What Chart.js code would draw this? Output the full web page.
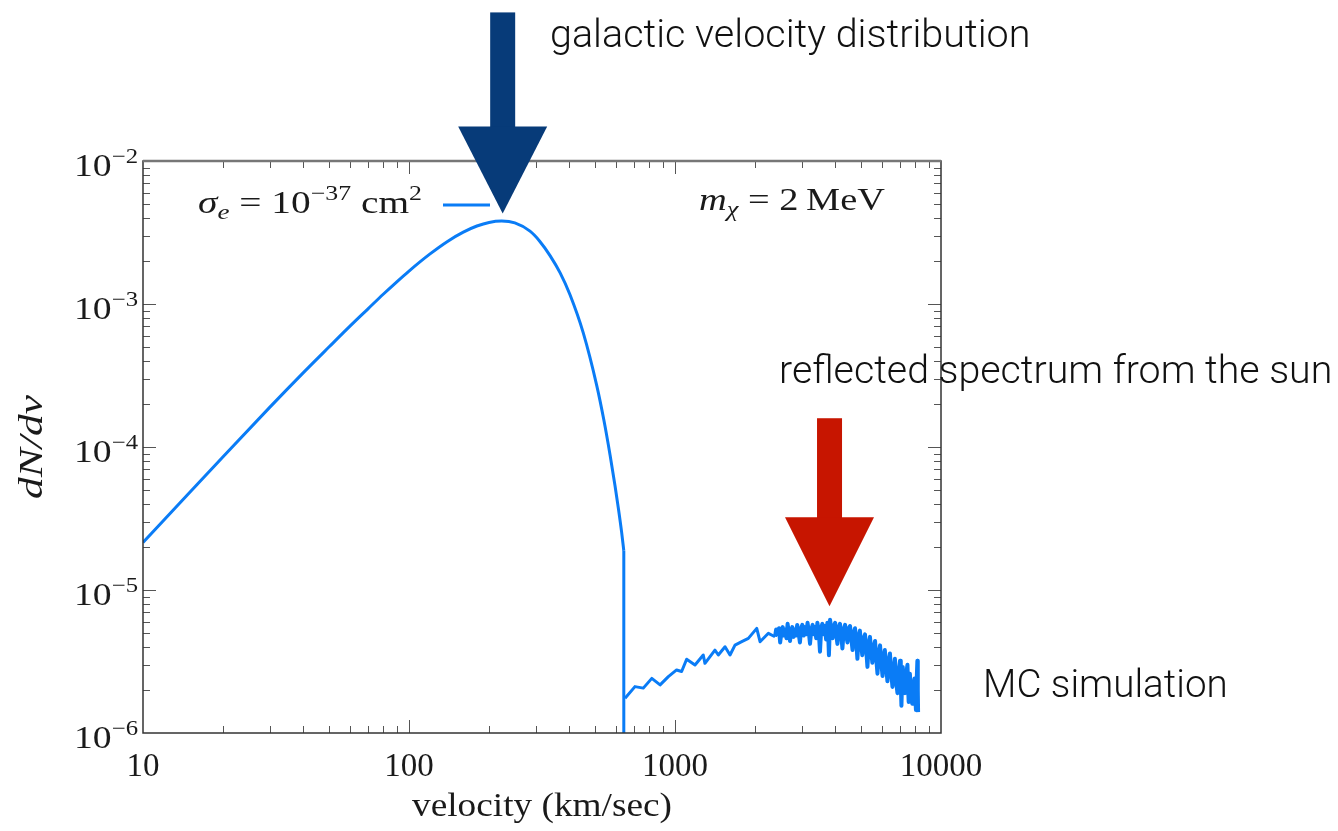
<!DOCTYPE html>
<html>
<head>
<meta charset="utf-8">
<script src="https://cdn.jsdelivr.net/npm/chart.js@4.4.0/dist/chart.umd.min.js"></script>
<style>
  html, body { margin: 0; padding: 0; background: #fff; }
  #wrap { width: 1338px; height: 831px; }
</style>
</head>
<body>
<div id="wrap"><canvas id="chart"></canvas></div>
<script>
// galactic velocity distribution, v in km/sec
const galV = [10, 15, 20, 30, 40, 50, 60, 70, 80, 90, 100, 120, 140, 160, 180, 200, 223, 250, 285, 310, 339, 370, 403, 452, 508, 540, 570, 595, 613, 630, 642];
const galF = [2.15e-5, 4.83e-5, 8.55e-5, 1.9e-4, 3.3e-4, 5.0e-4, 7.0e-4, 9.22e-4, 1.17e-3, 1.43e-3, 1.7e-3, 2.24e-3, 2.75e-3, 3.18e-3, 3.51e-3, 3.72e-3, 3.8e-3, 3.69e-3, 3.23e-3, 2.75e-3, 2.18e-3, 1.65e-3, 1.16e-3, 6.28e-4, 2.69e-4, 1.55e-4, 8.8e-5, 5.36e-5, 3.69e-5, 2.54e-5, 1.88e-5];

// reflected spectrum from the sun (MC simulation)
const mcV = [649, 707, 760, 818, 879, 944, 1014, 1059, 1106, 1189, 1277, 1296, 1413, 1455, 1542, 1610, 1681, 1782, 1887, 2029, 2088, 2244, 2377,
  2400, 2430, 2460, 2485, 2510, 2540, 2570, 2600, 2625, 2650, 2680, 2706, 2735, 2760, 2790, 2820, 2850, 2880, 2915, 2949, 2980,
  3010, 3045, 3080, 3115, 3150, 3185, 3218, 3255, 3290, 3325, 3360, 3395, 3430, 3470, 3508, 3545, 3580, 3620, 3660, 3700, 3740, 3765, 3790, 3828, 3870, 3910, 3955,
  4000, 4040, 4080, 4125, 4171, 4215, 4260, 4310, 4360, 4405, 4450, 4500, 4550, 4600, 4650, 4700, 4750, 4800, 4850, 4900, 4955,
  5005, 5060, 5120, 5180, 5235, 5290, 5350, 5407, 5465, 5520, 5585, 5650, 5710, 5770, 5835, 5900, 5965,
  6030, 6090, 6150, 6220, 6290, 6360, 6427, 6500, 6570, 6640, 6710, 6780, 6860, 6940,
  7013, 7060, 7100, 7140, 7180, 7250, 7330, 7400, 7480, 7520, 7560, 7600, 7638, 7720, 7800, 7870, 7950,
  8000, 8050, 8100, 8150, 8180, 8200];
const mcF = [1.75e-6, 2.11e-6, 2.06e-6, 2.41e-6, 2.17e-6, 2.48e-6, 2.76e-6, 2.69e-6, 3.28e-6, 2.99e-6, 3.51e-6, 3.07e-6, 3.8e-6, 3.51e-6, 4.01e-6, 3.51e-6, 4.12e-6, 4.35e-6, 4.59e-6, 5.39e-6, 4.35e-6, 4.98e-6, 4.71e-6,
  5.3e-6, 4.9e-6, 5.4e-6, 4.3e-6, 5.0e-6, 5.5e-6, 4.8e-6, 5.3e-6, 4.6e-6, 5.8e-6, 5.0e-6, 4.4e-6, 5.2e-6, 5.5e-6, 4.7e-6, 5.3e-6, 4.8e-6, 5.7e-6, 5.0e-6, 4.3e-6, 5.4e-6,
  5.7e-6, 4.8e-6, 5.5e-6, 4.9e-6, 5.9e-6, 5.1e-6, 4.2e-6, 5.3e-6, 5.7e-6, 4.9e-6, 5.5e-6, 4.6e-6, 5.9e-6, 5.2e-6, 3.7e-6, 5.4e-6, 5.8e-6, 4.9e-6, 5.6e-6, 4.5e-6, 5.9e-6, 5.0e-6, 3.5e-6, 6.2e-6, 5.3e-6, 4.6e-6, 5.6e-6,
  5.9e-6, 4.8e-6, 4.2e-6, 5.5e-6, 5.8e-6, 4.9e-6, 3.9e-6, 5.3e-6, 5.7e-6, 4.8e-6, 4.3e-6, 5.4e-6, 5.6e-6, 4.6e-6, 3.8e-6, 5.0e-6, 5.4e-6, 4.4e-6, 3.3e-6, 4.7e-6, 5.2e-6,
  4.2e-6, 3.5e-6, 4.6e-6, 4.9e-6, 3.8e-6, 2.9e-6, 4.2e-6, 4.7e-6, 3.7e-6, 3.1e-6, 4.0e-6, 4.4e-6, 3.3e-6, 2.6e-6, 3.6e-6, 4.1e-6, 3.1e-6,
  2.5e-6, 3.4e-6, 3.8e-6, 2.9e-6, 2.3e-6, 3.2e-6, 3.6e-6, 2.6e-6, 2.1e-6, 2.8e-6, 3.3e-6, 2.3e-6, 1.9e-6, 2.7e-6,
  3.2e-6, 2.2e-6, 1.55e-6, 2.3e-6, 2.9e-6, 2.2e-6, 1.9e-6, 2.6e-6, 3.0e-6, 2.1e-6, 1.65e-6, 2.2e-6, 2.6e-6, 1.9e-6, 1.6e-6, 2.1e-6, 2.4e-6,
  1.8e-6, 1.45e-6, 2.3e-6, 3.2e-6, 2.0e-6, 1.4e-6];

const xTicks = [10, 100, 1000, 10000];
const yTicks = [1e-2, 1e-3, 1e-4, 1e-5, 1e-6];
const yExp = ["\u22122", "\u22123", "\u22124", "\u22125", "\u22126"];

const lineBlue = "#0a7cf6";
const serif = '"Liberation Serif", "DejaVu Serif", serif';
const sans = 'Roboto, "Open Sans", sans-serif';

// arrow tips placed in data space
const arrows = [
  { v: 225, f: 4.3e-3, color: "#073b79", shaft: 114, head: 87 },
  { v: 3810, f: 7.7e-6, color: "#c71500", shaft: 99, head: 89 },
];

function rich(ctx, parts, x, y, width, align) {
  let w = 0;
  parts.forEach(p => { ctx.font = p[1]; w += ctx.measureText(p[0]).width; });
  const sx = width ? width / w : 1;
  ctx.save();
  ctx.translate(x, y);
  ctx.scale(sx, 1);
  let cx = align === "right" ? -w : align === "center" ? -w / 2 : 0;
  ctx.textAlign = "left";
  ctx.textBaseline = "alphabetic";
  parts.forEach(p => {
    ctx.font = p[1];
    ctx.fillText(p[0], cx, p[2] || 0);
    cx += ctx.measureText(p[0]).width;
  });
  ctx.restore();
}

function sansFit(ctx, text, left, right, baseline) {
  ctx.font = "300 100px " + sans;
  const size = 100 * (right - left) / ctx.measureText(text).width;
  ctx.font = "300 " + size.toFixed(1) + "px " + sans;
  ctx.textAlign = "left";
  ctx.textBaseline = "alphabetic";
  ctx.fillText(text, left, baseline);
}

const decor = {
  id: "decor",
  afterDatasetsDraw(chart) {
    const ctx = chart.ctx;
    const a = chart.chartArea;
    const xs = chart.scales.x, ys = chart.scales.y;
    ctx.save();

    // inward ticks on all four sides
    ctx.strokeStyle = "#555";
    ctx.lineWidth = 1;
    ctx.beginPath();
    for (let d = 10; d < 10000; d *= 10) {
      for (let k = 1; k < 10; k++) {
        if (d * k === 10) continue;
        const px = Math.round(xs.getPixelForValue(d * k)) + 0.5;
        const len = k === 1 ? 13 : 7;
        ctx.moveTo(px, a.bottom); ctx.lineTo(px, a.bottom - len);
        ctx.moveTo(px, a.top); ctx.lineTo(px, a.top + len);
      }
    }
    for (let d = 1e-6; d < 1e-2 * 0.99; d *= 10) {
      for (let k = 1; k < 10; k++) {
        if (k === 1 && d < 1.1e-6) continue;
        const py = Math.round(ys.getPixelForValue(d * k)) + 0.5;
        const len = k === 1 ? 13 : 7;
        ctx.moveTo(a.left, py); ctx.lineTo(a.left + len, py);
        ctx.moveTo(a.right, py); ctx.lineTo(a.right - len, py);
      }
    }
    ctx.stroke();

    // frame
    ctx.strokeStyle = "#333";
    ctx.lineWidth = 1.5;
    ctx.strokeRect(a.left, a.top, a.right - a.left, a.bottom - a.top);
    ctx.strokeStyle = "#777";
    ctx.lineWidth = 2.5;
    ctx.beginPath();
    ctx.moveTo(a.left, a.top); ctx.lineTo(a.right, a.top);
    ctx.stroke();

    // tick labels
    ctx.fillStyle = "#1a1a1a";
    xTicks.forEach(v => {
      rich(ctx, [["" + v, "33px " + serif]], xs.getPixelForValue(v), a.bottom + 43, 0, "center");
    });
    yTicks.forEach((v, i) => {
      const py = ys.getPixelForValue(v);
      rich(ctx, [["10", "32px " + serif], [yExp[i], "21px " + serif, -13]], 138, py + 15, 64, "right");
    });

    // axis titles
    rich(ctx, [["velocity (km/sec)", "34px " + serif]], (a.left + a.right) / 2, a.bottom + 83, 260, "center");
    ctx.save();
    ctx.translate(42, (a.top + a.bottom) / 2);
    ctx.rotate(-Math.PI / 2);
    rich(ctx, [["dN/dv", "italic 34px " + serif]], 0, 0, 104, "center");
    ctx.restore();

    // in-plot labels
    rich(ctx, [
      ["\u03c3", "italic 32px " + serif], ["e", "italic 22px " + serif, 6],
      [" = 10", "32px " + serif], ["\u221237", "21px " + serif, -13],
      [" cm", "32px " + serif], ["2", "21px " + serif, -13]
    ], 198, 213, 224);
    ctx.strokeStyle = lineBlue;
    ctx.lineWidth = 3;
    ctx.beginPath();
    ctx.moveTo(443, 205); ctx.lineTo(490, 205);
    ctx.stroke();
    rich(ctx, [
      ["m", "italic 32px " + serif], ["\u03c7", "italic 22px " + serif, 6],
      [" = 2\u2009MeV", "32px " + serif]
    ], 699, 210, 186);

    // arrows
    arrows.forEach(ar => {
      const tx = xs.getPixelForValue(ar.v);
      const ty = ys.getPixelForValue(ar.f);
      const headTop = ty - ar.head;
      ctx.fillStyle = ar.color;
      ctx.fillRect(tx - 12.5, headTop - ar.shaft, 25, ar.shaft + 1);
      ctx.beginPath();
      ctx.moveTo(tx - 44.5, headTop);
      ctx.lineTo(tx + 44.5, headTop);
      ctx.lineTo(tx, ty);
      ctx.closePath();
      ctx.fill();
    });

    // slide annotations
    ctx.fillStyle = "#111";
    sansFit(ctx, "galactic velocity distribution", 550, 1030, 47);
    sansFit(ctx, "reflected spectrum from the sun", 779, 1332, 383);
    sansFit(ctx, "MC simulation", 983, 1228, 697);

    ctx.restore();
  }
};

const last = galV.length - 1;
const canvas = document.getElementById("chart");
new Chart(canvas, {
  type: "scatter",
  data: {
    datasets: [
      {
        data: galV.map((v, i) => ({ x: v, y: galF[i] })),
        showLine: true,
        borderColor: lineBlue,
        borderWidth: 3,
        pointRadius: 0,
        cubicInterpolationMode: "monotone",
      },
      {
        // drop at the escape velocity cut
        data: [{ x: galV[last], y: galF[last] }, { x: galV[last], y: 1e-6 }],
        showLine: true,
        borderColor: lineBlue,
        borderWidth: 3,
        pointRadius: 0,
      },
      {
        data: mcV.map((v, i) => ({ x: v, y: mcF[i] })),
        showLine: true,
        borderColor: lineBlue,
        borderWidth: 3,
        borderJoinStyle: "round",
        pointRadius: 0,
        tension: 0,
        segment: {
          borderWidth: c => (c.p0.parsed.x > 2350 ? 4 : 3),
        },
      },
    ],
  },
  options: {
    responsive: true,
    maintainAspectRatio: false,
    animation: false,
    layout: { padding: { left: 143, right: 397, top: 161, bottom: 98 } },
    scales: {
      x: { type: "logarithmic", min: 10, max: 10000, display: false },
      y: { type: "logarithmic", min: 1e-6, max: 1e-2, display: false },
    },
    plugins: {
      legend: { display: false },
      tooltip: { enabled: false },
    },
  },
  plugins: [decor],
});
</script>
</body>
</html>
